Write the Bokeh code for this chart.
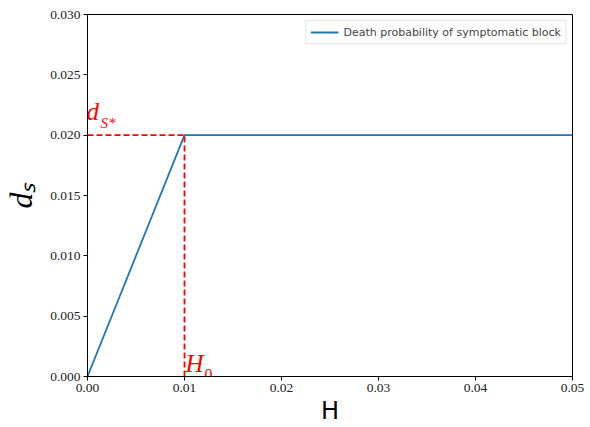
from bokeh.plotting import figure
from bokeh.models import Range1d, FixedTicker, CustomJSTickFormatter, Label, Legend, LegendItem
from bokeh.embed import file_html
from bokeh.resources import INLINE

# data
H_vals = [0.0, 0.01, 0.05]
ds_vals = [0.0, 0.02, 0.02]
H0 = 0.01
dS_star = 0.02
x_ticks = [0.0, 0.01, 0.02, 0.03, 0.04, 0.05]
y_ticks = [0.0, 0.005, 0.01, 0.015, 0.02, 0.025, 0.03]
series_label = "Death probability of symptomatic block"

p = figure(width=590, height=427, output_backend="svg", toolbar_location=None,
           x_range=Range1d(0, 0.05), y_range=Range1d(0, 0.03),
           min_border_left=86, min_border_top=14, min_border_right=18, min_border_bottom=51)
p.xgrid.visible = False
p.ygrid.visible = False
p.outline_line_color = "black"
p.outline_line_width = 1
p.outline_line_alpha = 1

serif = "Liberation Serif"
for ax in (p.xaxis[0], p.yaxis[0]):
    ax.major_label_text_font = serif
    ax.major_label_text_font_size = "13.5px"
    ax.major_label_text_color = "#222222"
    ax.axis_line_color = "black"
    ax.major_tick_line_color = "black"
    ax.major_tick_in = 0
    ax.major_tick_out = 4
    ax.minor_tick_line_color = None
    ax.major_label_standoff = 3

p.xaxis.ticker = FixedTicker(ticks=x_ticks)
p.yaxis.ticker = FixedTicker(ticks=y_ticks)
p.xaxis.formatter = CustomJSTickFormatter(code="return tick.toFixed(2);")
p.yaxis.formatter = CustomJSTickFormatter(code="return tick.toFixed(3);")

p.xaxis.axis_label = "H"
p.xaxis.axis_label_text_font = "DejaVu Sans"
p.xaxis.axis_label_text_font_style = "normal"
p.xaxis.axis_label_text_font_size = "24px"
p.xaxis.axis_label_text_color = "black"
p.xaxis.axis_label_standoff = 2

p.yaxis.axis_label = "dₛ"
p.yaxis.axis_label_text_font = serif
p.yaxis.axis_label_text_font_style = "italic"
p.yaxis.axis_label_text_font_size = "32px"
p.yaxis.axis_label_text_color = "black"
p.yaxis.axis_label_standoff = 8

r = p.line(H_vals, ds_vals, line_color="#1f77b4", line_width=1.8)

p.line([0, H0], [dS_star, dS_star], line_color="red", line_width=1.8, line_dash="6 3")
p.line([H0, H0], [0, dS_star], line_color="red", line_width=1.8, line_dash="6 3")

p.add_layout(Label(x=0, y=dS_star, text="d", text_color="red", text_font=serif,
                   text_font_style="italic", text_font_size="25px", x_offset=-1, y_offset=10))
p.add_layout(Label(x=0, y=dS_star, text="S*", text_color="red", text_font=serif,
                   text_font_style="italic", text_font_size="15px", x_offset=13, y_offset=4))
p.add_layout(Label(x=H0, y=0, text="H", text_color="red", text_font=serif,
                   text_font_style="italic", text_font_size="25px", x_offset=1, y_offset=0))
p.add_layout(Label(x=H0, y=0, text="0", text_color="red", text_font=serif,
                   text_font_size="16px", x_offset=20, y_offset=-3))

legend = Legend(items=[LegendItem(label=series_label, renderers=[r])], location="top_right")
legend.label_text_font = "DejaVu Sans"
legend.label_text_font_size = "11px"
legend.border_line_color = "#cccccc"
legend.border_line_width = 1
legend.background_fill_alpha = 0.8
legend.margin = 6
legend.padding = 4
legend.label_height = 14
legend.glyph_height = 14
legend.glyph_width = 28
legend.spacing = 0
p.add_layout(legend)

open("out.html", "w").write(file_html(p, INLINE))
